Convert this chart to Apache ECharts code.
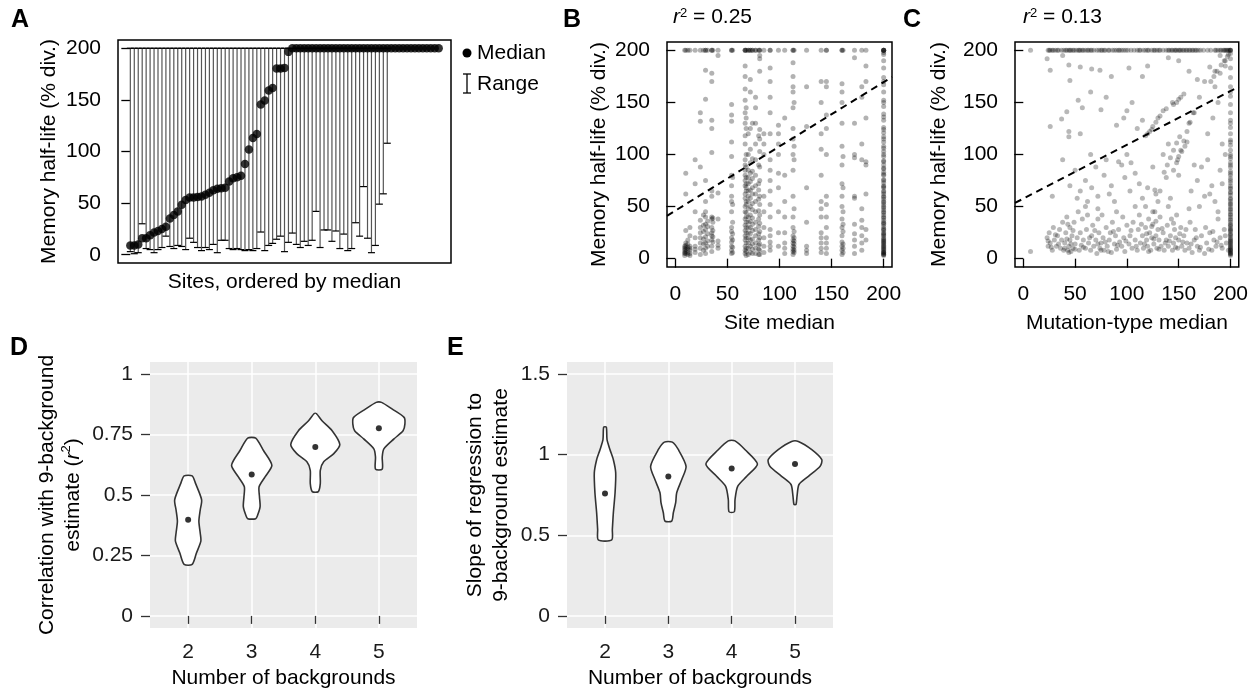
<!DOCTYPE html>
<html>
<head>
<meta charset="utf-8">
<script src="https://cdn.jsdelivr.net/npm/echarts@6.0.0/dist/echarts.min.js"></script>
<style>
  html, body { margin: 0; background: #fff; }
  #chart { width: 1251px; height: 692px; }
</style>
</head>
<body>
<div id="chart"></div>
<script>
const FONT = '"Liberation Sans", Arial, Helvetica, sans-serif'

// A: sites ordered by median, range [low, 200]
const siteMedian = [9, 9, 10, 16, 16, 19, 21.5, 23, 25, 27, 35, 38.5, 42, 48.5, 53, 55.5, 55.5, 56, 56.5, 58,
  60, 62.5, 64, 64.5, 65, 71, 74, 75, 76.5, 88, 102, 113, 117, 145.5, 149.5, 159, 161.5, 180.5, 180.5, 181,
  196.5, 200, 200, 200, 200, 200, 200, 200, 200, 200, 200, 200, 200, 200, 200, 200, 200, 200, 200, 200,
  200, 200, 200, 200, 200, 200, 200, 200, 200, 200, 200, 200, 200, 200, 200, 200, 200, 200, 200]
const siteLow = [3, 1, 2, 30, 6, 5, 2, 5, 7, 18, 8, 6, 9, 8, 5, 16, 12, 7, 4, 7,
  5, 10, 2, 14, 14, 6, 5, 6, 5, 4, 5, 4, 6, 22, 4, 9, 11, 15, 18, 3,
  12, 21, 10, 7, 13, 9, 14, 42, 7, 24, 24, 13, 23, 6, 20, 4, 6, 31, 18, 66,
  16, 2, 9, 49, 59, 108, 200, 200, 200, 200, 200, 200, 200, 200, 200, 200, 200, 200, 200]
const siteHigh = 200 // every range reaches the cap

// B: half-life of each mutation, grouped by its site median
const siteCols = [
  [9, [200, 3, 5, 8, 10, 12, 6]],
  [10, [200, 5, 7, 9, 11, 13, 15, 27, 62, 82]],
  [12, [200, 4, 6, 9, 11, 14, 18]],
  [14, [200, 3, 5, 8, 10, 12, 22, 30]],
  [19, [200, 6, 9, 12, 20, 45, 72, 95]],
  [24, [200, 4, 10, 15, 20, 25, 30, 37, 88, 132, 140]],
  [27, [200, 8, 14, 19, 26, 32, 42]],
  [29, [200, 200, 5, 10, 15, 21, 28, 33, 40, 45, 55, 75, 153, 181]],
  [31, [200, 12, 17, 24, 31, 36]],
  [35, [200, 200, 7, 12, 18, 22, 25, 30, 38, 40, 60, 65, 102, 125, 133, 170, 178]],
  [36, [200, 16, 21, 27, 35, 39]],
  [41, [200, 10, 13, 17, 38, 63, 195]],
  [54, [200, 200, 5, 8, 12, 16, 20, 26, 30, 45, 55, 60, 70, 80, 98, 112, 132, 138, 148]],
  [55, [200, 6, 11, 18, 24, 35, 52, 78]],
  [67, [200, 200, 200, 5, 8, 12, 18, 22, 27, 32, 38, 45, 50, 58, 62, 70, 75, 80, 85, 90, 95, 110, 118, 130, 140, 152, 163, 175, 185]],
  [68, [200, 3, 7, 10, 15, 20, 25, 30, 35, 40, 44, 52, 55, 65, 68, 72, 78, 88, 100, 125, 135, 145]],
  [70, [200, 200, 4, 10, 15, 20, 25, 30, 35, 40, 48, 55, 60, 65, 72, 78, 85, 100, 120]],
  [72, [200, 200, 6, 12, 18, 24, 30, 36, 42, 50, 58, 66, 74, 82, 92, 105, 125, 160, 172]],
  [74, [200, 200, 5, 9, 14, 19, 27, 33, 39, 47, 53, 62, 68, 77, 84, 96, 130]],
  [77, [200, 200, 5, 10, 15, 22, 28, 35, 45, 55, 62, 70, 80, 95, 110, 130, 145, 155]],
  [80, [200, 4, 9, 13, 18, 24, 31, 38, 46, 57, 66, 72, 90, 118]],
  [81, [200, 200, 4, 8, 14, 20, 26, 34, 42, 52, 60, 75, 88, 103, 115, 124, 180, 192, 195]],
  [85, [200, 6, 12, 20, 30, 45, 60, 100, 110, 120]],
  [91, [200, 200, 8, 12, 16, 22, 28, 40, 52, 65, 75, 85, 95, 120, 140, 155, 170, 183]],
  [99, [200, 12, 25, 45, 68, 82, 100, 110, 120, 128]],
  [105, [200, 5, 10, 15, 25, 40, 55, 80, 135]],
  [113, [200, 200, 4, 7, 9, 12, 15, 18, 22, 30, 40, 60, 85, 100, 115, 125, 145, 160, 165, 175, 188]],
  [114, [200, 6, 8, 11, 14, 17, 20, 26, 48, 95, 108, 150]],
  [126, [200, 5, 8, 12, 35, 68, 127, 165]],
  [140, [200, 6, 10, 15, 20, 25, 40, 48, 55, 80, 105, 120, 150, 170]],
  [145, [200, 200, 5, 10, 15, 20, 30, 40, 52, 60, 100, 125, 138, 165, 170]],
  [160, [200, 200, 4, 8, 12, 16, 22, 30, 38, 50, 60, 72, 90, 108, 130, 150, 160, 168]],
  [161, [200, 6, 10, 14, 26, 33, 45, 68, 98]],
  [172, [200, 5, 12, 18, 24, 33, 58, 60, 97, 100, 130, 193]],
  [179, [200, 8, 15, 22, 30, 37, 48, 95, 110, 155, 165]],
  [183, [200, 18, 28, 62, 90, 93, 135, 170, 185]],
  [200, [200, 200, 200, 198, 3, 4, 5, 6, 7, 8, 10, 11, 12, 14, 15, 17, 18, 20, 22, 23, 25, 27, 28, 31, 33, 35, 37,
    40, 42, 45, 47, 50, 52, 55, 57, 60, 62, 65, 68, 70, 73, 76, 80, 83, 87, 90, 94, 98, 103, 108, 112, 117, 121,
    126, 133, 139, 146, 152, 160, 167, 174, 183, 190, 196]],
  [200, [200, 200, 4, 6, 9, 13, 16, 19, 24, 29, 34, 39, 44, 49, 54, 59, 64, 69, 75, 81, 86, 93, 100, 106, 115,
    124, 136, 150, 170]]
]
const siteFit = [46.1, 0.617] // intercept, slope
const siteR2 = '0.25'

// C: half-life vs mutation-type median
const typeTop = [7, 24, 26, 29, 31, 34, 37, 39, 42, 44, 46, 49, 53, 55, 57, 60, 63, 66, 68, 71, 73, 76, 79, 83,
  86, 90, 93, 97, 101, 104, 107, 110, 113, 116, 118, 121, 124, 127, 129, 132, 135, 138, 141, 143, 146, 148,
  150, 152, 155, 158, 161, 164, 167, 171, 174, 178, 181, 185, 188, 191, 193, 195, 197, 199,
  25, 28, 33, 41, 45, 48, 51, 54, 58, 62, 65, 75, 78, 82, 88, 92, 95, 99, 112, 120, 126, 131, 140, 144, 147,
  151, 154, 157, 160, 163, 166, 169, 186, 190, 194, 196, 198, 200, 200]
const typeRight = [3, 4, 5, 6, 7, 8, 9, 10, 12, 13, 14, 16, 17, 19, 20, 22, 24, 26, 27, 29, 31, 33, 35, 38, 40,
  42, 45, 47, 50, 53, 55, 58, 61, 64, 67, 70, 73, 77, 80, 84, 88, 92, 96, 100, 104, 109, 114, 120, 126, 133,
  140, 148, 156, 165, 174, 183, 192, 197, 200,
  5, 8, 11, 15, 18, 23, 28, 32, 37, 43, 48, 52, 57, 63, 68, 75, 82, 90, 98, 112, 130, 160]
const typePts = [
  [7, 7], [23, 192], [26, 181], [44, 186], [45, 171], [55, 184], [66, 182], [74, 181], [38, 195], [85, 175],
  [102, 183], [115, 175], [120, 185], [140, 193], [150, 190], [160, 180], [168, 172], [180, 184], [185, 180],
  [195, 190], [198, 196], [190, 195],
  [53, 152], [37, 134], [42, 141], [26, 127], [44, 122], [44, 117], [55, 120], [57, 145], [65, 160], [75, 143],
  [80, 155], [90, 128], [97, 135], [100, 142], [105, 150], [110, 125], [115, 133], [118, 118], [122, 122],
  [125, 127], [128, 131], [130, 135], [135, 142], [140, 110], [145, 148], [148, 150], [150, 153], [152, 155],
  [155, 158], [160, 130], [165, 140], [170, 155], [175, 170], [178, 120], [183, 135], [188, 150], [192, 110],
  [185, 165], [190, 178], [195, 185], [181, 170], [184, 175], [187, 180], [191, 186], [194, 190], [197, 194],
  [136, 83], [139, 90], [142, 97], [145, 104], [148, 111], [151, 117], [149, 95], [152, 104], [155, 113],
  [158, 122], [161, 131], [164, 140], [120, 120], [124, 124], [132, 137], [138, 144], [144, 150],
  [28, 60], [38, 95], [45, 70], [50, 85], [55, 65], [60, 75], [62, 55], [65, 100], [70, 88], [72, 60], [78, 80],
  [80, 95], [85, 70], [88, 55], [92, 93], [95, 90], [98, 78], [100, 100], [103, 65], [108, 82], [112, 72],
  [115, 58], [120, 68], [125, 88], [128, 62], [130, 55], [132, 65], [135, 100], [138, 78], [142, 58], [145, 85],
  [148, 92], [150, 98], [153, 103], [156, 108], [158, 112], [150, 80], [162, 65], [165, 90], [168, 75], [172, 88],
  [175, 60], [178, 95], [182, 70], [185, 55], [188, 45], [190, 85], [195, 100], [60, 50], [72, 48], [90, 45],
  [108, 50], [125, 45], [140, 50], [160, 48], [52, 58], [66, 68], [83, 62], [104, 92], [118, 50], [127, 66],
  [170, 50], [180, 62], [192, 72],
  [23, 20], [24, 12], [25, 25], [26, 15], [28, 8], [29, 30], [30, 18], [32, 12], [33, 22], [35, 28], [36, 10],
  [37, 18], [38, 35], [39, 8], [40, 15], [41, 25], [42, 40], [43, 8], [44, 12], [45, 18], [45, 30], [46, 7],
  [47, 22], [48, 10], [49, 35], [50, 14], [52, 20], [53, 45], [54, 8], [55, 25], [56, 13], [57, 38], [58, 18],
  [60, 10], [61, 28], [62, 42], [63, 15], [65, 8], [66, 22], [67, 32], [68, 12], [70, 18], [71, 5], [72, 38],
  [73, 25], [74, 10], [75, 15], [76, 42], [77, 20], [78, 8], [80, 30], [81, 12], [83, 18], [84, 25], [85, 6],
  [86, 35], [88, 14], [89, 22], [90, 9], [92, 28], [93, 16], [95, 12], [96, 40], [97, 20], [98, 7], [100, 32],
  [102, 14], [103, 22], [105, 10], [106, 35], [108, 18], [110, 8], [111, 28], [112, 42], [113, 15], [115, 22],
  [116, 10], [118, 30], [119, 18], [120, 12], [121, 38], [122, 25], [123, 8], [124, 20], [125, 33], [126, 14],
  [127, 45], [128, 22], [129, 10], [130, 28], [131, 18], [132, 40], [133, 12], [135, 25], [136, 8], [138, 18],
  [139, 32], [140, 12], [142, 22], [143, 38], [144, 8], [145, 15], [146, 28], [147, 20], [148, 42], [149, 10],
  [150, 18], [152, 30], [153, 12], [155, 22], [156, 8], [158, 15], [160, 10], [161, 35], [163, 6], [165, 18],
  [166, 28], [168, 12], [170, 8], [172, 22], [175, 5], [177, 15], [180, 25], [182, 8], [184, 18], [186, 12],
  [188, 38], [190, 20], [192, 10], [194, 28], [196, 15], [198, 8],
  [24, 17], [27, 11], [31, 23], [34, 14], [40, 10], [42, 19], [44, 6], [46, 14], [48, 27], [43, 33], [50, 9],
  [58, 11], [64, 20], [69, 27], [72, 14], [75, 8], [79, 16], [82, 7], [87, 26], [91, 13], [99, 17], [104, 27],
  [109, 12], [114, 33], [117, 14], [119, 24], [121, 7], [124, 31], [126, 19], [128, 36], [131, 9], [134, 29],
  [137, 15], [141, 17], [145, 34], [147, 11], [151, 24], [154, 16], [157, 28], [162, 14], [167, 20], [171, 11],
  [176, 30], [179, 9], [183, 26], [187, 16], [191, 13], [195, 22]
]
const typeFit = [57.6, 0.517]
const typeR2 = '0.13'

// D, E: violins as [value, half-width] from top to bottom
const nBackgrounds = [2, 3, 4, 5]
const corrProfiles = [
  [[0.579, 0.063], [0.548, 0.116], [0.48, 0.212], [0.438, 0.19], [0.391, 0.169], [0.343, 0.19], [0.309, 0.2], [0.261, 0.132], [0.213, 0.063]],
  [[0.735, 0.063], [0.684, 0.185], [0.623, 0.317], [0.575, 0.21], [0.534, 0.116], [0.493, 0.122], [0.452, 0.132], [0.418, 0.095], [0.402, 0.063]],
  [[0.837, 0.016], [0.807, 0.106], [0.766, 0.265], [0.709, 0.386], [0.671, 0.291], [0.637, 0.132], [0.602, 0.079], [0.548, 0.079], [0.514, 0.048]],
  [[0.883, 0.042], [0.855, 0.212], [0.821, 0.397], [0.794, 0.41], [0.766, 0.381], [0.732, 0.238], [0.691, 0.079], [0.657, 0.053], [0.607, 0.053]]
]
const corrMedian = [0.398, 0.585, 0.698, 0.776]
const slopeProfiles = [
  [[1.171, 0.021], [1.093, 0.032], [1.031, 0.079], [0.969, 0.132], [0.887, 0.169], [0.764, 0.159], [0.64, 0.132], [0.537, 0.116], [0.471, 0.106]],
  [[1.078, 0.063], [1.031, 0.159], [0.928, 0.28], [0.846, 0.212], [0.764, 0.132], [0.702, 0.116], [0.64, 0.079], [0.588, 0.053]],
  [[1.086, 0.053], [1.031, 0.212], [0.942, 0.407], [0.866, 0.238], [0.804, 0.095], [0.722, 0.053], [0.646, 0.042]],
  [[1.082, 0.053], [1.031, 0.265], [0.969, 0.423], [0.928, 0.397], [0.866, 0.212], [0.815, 0.063], [0.743, 0.032], [0.691, 0.016]]
]
const slopeMedian = [0.759, 0.864, 0.914, 0.942]

const halfLifeTicks = [0, 50, 100, 150, 200]
const corrTicks = [0, 0.25, 0.5, 0.75, 1]
const slopeTicks = [0, 0.5, 1, 1.5]

const chart = echarts.init(document.getElementById('chart'))

const txt = { fontFamily: FONT, fontSize: 21, color: '#000' }

function boxGrid(left, top, width, height) {
  return { left, top, width, height, show: true, borderColor: '#000', borderWidth: 1.5, backgroundColor: 'transparent' }
}
function ggGrid(left, top, width, height) {
  return { left, top, width, height, show: true, borderWidth: 0, backgroundColor: '#EBEBEB' }
}
function halfLifeAxis(idx, name, gap, extra) {
  return Object.assign({
    type: 'value', gridIndex: idx, min: -8, max: 208,
    name, nameLocation: 'middle', nameGap: gap, nameTextStyle: txt,
    axisLine: { show: false },
    axisTick: { show: true, length: 9, lineStyle: { color: '#000', width: 1.3 }, customValues: halfLifeTicks },
    axisLabel: Object.assign({ customValues: halfLifeTicks, margin: 17 }, txt),
    splitLine: { show: false }
  }, extra || {})
}
function ggYAxis(idx, ticks, min, max, name, gap) {
  return {
    type: 'value', gridIndex: idx, min, max,
    name, nameLocation: 'middle', nameGap: gap,
    nameTextStyle: Object.assign({ lineHeight: 26, rich: { i: { fontStyle: 'italic', fontSize: 21, fontFamily: FONT }, s: { fontSize: 13, fontFamily: FONT, verticalAlign: 'top' } } }, txt),
    axisLine: { show: false },
    axisTick: { show: true, length: 9, lineStyle: { color: '#333', width: 1.3 }, customValues: ticks },
    axisLabel: Object.assign({ customValues: ticks, margin: 17 }, txt, { color: '#1a1a1a' }),
    splitLine: { show: true, lineStyle: { color: '#fff', width: 1.5 } }
  }
}
function ggXAxis(idx) {
  return {
    type: 'value', gridIndex: idx, min: 1.4, max: 5.6,
    name: 'Number of backgrounds', nameLocation: 'middle', nameGap: 40, nameTextStyle: txt,
    axisLine: { show: false },
    axisTick: { show: true, length: 8, lineStyle: { color: '#333', width: 1.3 }, customValues: nBackgrounds },
    axisLabel: Object.assign({ customValues: nBackgrounds, margin: 14 }, txt, { color: '#1a1a1a' }),
    splitLine: { show: true, lineStyle: { color: '#fff', width: 1.5 } }
  }
}

function violin(profiles) {
  return function (params, api) {
    const x = api.value(0)
    const prof = profiles[params.dataIndex]
    const right = prof.map(p => api.coord([x + p[1], p[0]]))
    const left = prof.slice().reverse().map(p => api.coord([x - p[1], p[0]]))
    return {
      type: 'polygon',
      shape: { points: right.concat(left), smooth: 0.25 },
      style: { fill: '#fff', stroke: '#333', lineWidth: 1.6 }
    }
  }
}

function fitLine(fit) {
  return [-8, 208].map(x => [x, fit[0] + fit[1] * x])
}

const sitePoints = []
siteCols.forEach(c => c[1].forEach(y => sitePoints.push([c[0], y])))
const typePoints = typePts.concat(typeTop.map(x => [x, 200]), typeRight.map(y => [200, y]))

const r2Rich = {
  i: { fontStyle: 'italic', fontSize: 21, fontFamily: FONT },
  s: { fontSize: 13, fontFamily: FONT, verticalAlign: 'top', padding: [0, 0, 8, 0] },
  t: { fontSize: 21, fontFamily: FONT }
}
function letter(ch, x, y) {
  return { type: 'text', left: x, top: y, style: { text: ch, font: 'bold 25px ' + FONT, fill: '#000' } }
}

chart.setOption({
  animation: false,
  grid: [
    boxGrid(118, 40, 333, 223),
    boxGrid(667, 42, 225, 225),
    boxGrid(1015, 42, 225, 225),
    ggGrid(150, 362, 267, 266),
    ggGrid(567, 362, 266, 266)
  ],
  xAxis: [
    { type: 'value', gridIndex: 0, min: -3.12, max: 81.12, name: 'Sites, ordered by median', nameLocation: 'middle', nameGap: 9,
      nameTextStyle: Object.assign({ verticalAlign: 'top' }, txt), axisLine: { show: false }, axisTick: { show: false }, axisLabel: { show: false }, splitLine: { show: false } },
    halfLifeAxis(1, 'Site median', 41, { offset: 5, axisLabel: Object.assign({ customValues: halfLifeTicks, margin: 12 }, txt) }),
    halfLifeAxis(2, 'Mutation-type median', 41, { offset: 5, axisLabel: Object.assign({ customValues: halfLifeTicks, margin: 12 }, txt) }),
    ggXAxis(3),
    ggXAxis(4)
  ],
  yAxis: [
    halfLifeAxis(0, 'Memory half-life (% div.)', 58),
    halfLifeAxis(1, 'Memory half-life (% div.)', 57),
    halfLifeAxis(2, 'Memory half-life (% div.)', 65),
    ggYAxis(3, corrTicks, -0.05, 1.05, 'Correlation with 9-background\nestimate ({i|r}{s|2})', 64),
    ggYAxis(4, slopeTicks, -0.075, 1.575, 'Slope of regression to\n9-background estimate', 53)
  ],
  series: [
    {
      type: 'custom', xAxisIndex: 0, yAxisIndex: 0, z: 2,
      data: siteLow.map((lo, i) => [i, lo, siteHigh]),
      encode: { x: 0, y: [1, 2] },
      renderItem(params, api) {
        const lo = api.value(1), hi = api.value(2)
        if (lo >= hi) return null
        const top = api.coord([api.value(0), hi])
        const bot = api.coord([api.value(0), lo])
        const cap = 3.5
        return {
          type: 'group',
          children: [
            { type: 'line', shape: { x1: top[0], y1: top[1], x2: bot[0], y2: bot[1] }, style: { stroke: '#555', lineWidth: 1.2 } },
            { type: 'line', shape: { x1: top[0] - cap, y1: top[1], x2: top[0] + cap, y2: top[1] }, style: { stroke: '#000', lineWidth: 1.2 } },
            { type: 'line', shape: { x1: bot[0] - cap, y1: bot[1], x2: bot[0] + cap, y2: bot[1] }, style: { stroke: '#000', lineWidth: 1.2 } }
          ]
        }
      }
    },
    {
      type: 'scatter', xAxisIndex: 0, yAxisIndex: 0, z: 3, symbolSize: 8.5,
      itemStyle: { color: '#000' },
      data: siteMedian.map((m, i) => [i, m])
    },
    {
      type: 'scatter', xAxisIndex: 1, yAxisIndex: 1, symbolSize: 5,
      itemStyle: { color: '#000', opacity: 0.3 },
      data: sitePoints
    },
    {
      type: 'line', xAxisIndex: 1, yAxisIndex: 1, symbol: 'none', z: 4,
      lineStyle: { color: '#000', width: 2, type: [7, 5] },
      data: fitLine(siteFit)
    },
    {
      type: 'scatter', xAxisIndex: 2, yAxisIndex: 2, symbolSize: 5,
      itemStyle: { color: '#000', opacity: 0.28 },
      data: typePoints
    },
    {
      type: 'line', xAxisIndex: 2, yAxisIndex: 2, symbol: 'none', z: 4,
      lineStyle: { color: '#000', width: 2, type: [7, 5] },
      data: fitLine(typeFit)
    },
    {
      type: 'custom', xAxisIndex: 3, yAxisIndex: 3, z: 2,
      data: nBackgrounds.map(n => [n]),
      renderItem: violin(corrProfiles)
    },
    {
      type: 'scatter', xAxisIndex: 3, yAxisIndex: 3, z: 3, symbolSize: 6,
      itemStyle: { color: '#000' },
      data: nBackgrounds.map((n, i) => [n, corrMedian[i]])
    },
    {
      type: 'custom', xAxisIndex: 4, yAxisIndex: 4, z: 2,
      data: nBackgrounds.map(n => [n]),
      renderItem: violin(slopeProfiles)
    },
    {
      type: 'scatter', xAxisIndex: 4, yAxisIndex: 4, z: 3, symbolSize: 6,
      itemStyle: { color: '#000' },
      data: nBackgrounds.map((n, i) => [n, slopeMedian[i]])
    }
  ],
  graphic: [
    letter('A', 11, 8),
    letter('B', 563, 8),
    letter('C', 903, 8),
    letter('D', 10, 336),
    letter('E', 447, 336),
    { type: 'text', left: 673, top: 7, style: { text: '{i|r}{s|2}{t| = ' + siteR2 + '}', rich: r2Rich, fill: '#000' } },
    { type: 'text', left: 1023, top: 7, style: { text: '{i|r}{s|2}{t| = ' + typeR2 + '}', rich: r2Rich, fill: '#000' } },
    // legend of panel A
    { type: 'circle', shape: { cx: 467, cy: 53, r: 4.5 }, style: { fill: '#000' } },
    { type: 'text', x: 477, y: 53, style: { text: 'Median', font: '21px ' + FONT, fill: '#000', verticalAlign: 'middle' } },
    { type: 'line', shape: { x1: 467, y1: 74, x2: 467, y2: 93 }, style: { stroke: '#000', lineWidth: 1.3 } },
    { type: 'line', shape: { x1: 463, y1: 74, x2: 471, y2: 74 }, style: { stroke: '#000', lineWidth: 1.3 } },
    { type: 'line', shape: { x1: 463, y1: 93, x2: 471, y2: 93 }, style: { stroke: '#000', lineWidth: 1.3 } },
    { type: 'text', x: 477, y: 84, style: { text: 'Range', font: '21px ' + FONT, fill: '#000', verticalAlign: 'middle' } }
  ]
})
</script>
</body>
</html>
